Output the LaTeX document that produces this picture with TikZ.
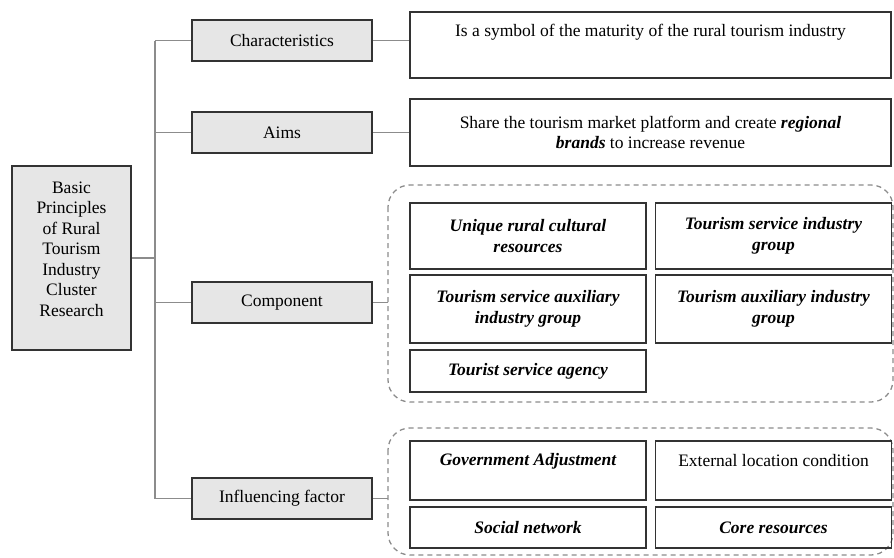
\documentclass[tikz,border=0pt]{standalone}
\usepackage{fontspec}
\setmainfont{Liberation Serif}
\usepackage{tikz}
\usetikzlibrary{positioning}

\definecolor{boxgray}{HTML}{E6E6E6}
\definecolor{linegray}{HTML}{8C8C8C}
\definecolor{edgedark}{HTML}{333333}

\tikzset{
    txt/.style={font=\fontsize{17.5}{20.5}\selectfont, align=center, inner sep=0pt},
    rootbox/.style={draw=edgedark, line width=2.6pt, fill=boxgray, minimum width=119pt, minimum height=184pt, txt},
    catbox/.style={draw=edgedark, line width=2.6pt, fill=boxgray, minimum width=180pt, minimum height=41pt, txt},
    descbox/.style={draw=edgedark, line width=1.6pt, minimum width=481pt, txt},
    itembox/.style={draw=edgedark, line width=1.6pt, minimum width=236pt, txt, font=\fontsize{17.5}{20.5}\selectfont\bfseries\itshape},
    groupbox/.style={draw=linegray, line width=1.3pt, dash pattern=on 5pt off 4pt, rounded corners=22pt},
    conn/.style={draw=linegray, line width=1.8pt}
}

\begin{document}
\begin{tikzpicture}[x=1pt, y=-1pt]
    \useasboundingbox (0,0) rectangle (894,557);

    % radice
    \node[rootbox] (root) at (71.5,258) {};
    \node[txt] (rootT) at (71.5,249) {Basic\\Principles\\of Rural\\Tourism\\Industry\\Cluster\\Research};

    % tronco
    \coordinate (trunkT) at (155,40.5);
    \coordinate (trunkB) at (155,498.5);
    \draw[conn] (trunkT) -- (trunkB);
    \draw[conn] (root.east) -- (root.east -| trunkT);

    % categorie
    \node[catbox] (char) at (282,40.5) {Characteristics};
    \node[catbox] (aims) at (282,132.5) {Aims};
    \node[catbox] (comp) at (282,302.5) {Component};
    \node[catbox] (infl) at (282,498.5) {Influencing factor};
    \foreach \c in {char,aims,comp,infl}
        \draw[conn] (\c.west -| trunkT) -- (\c.west);

    % descrizioni
    \node[descbox, minimum height=66pt] (charD) at (650.5,45) {};
    \node[txt] (charT) at (650.5,32) {Is a symbol of the maturity of the rural tourism industry};
    \node[descbox, minimum height=67pt] (aimsD) at (650.5,132.5)
        {Share the tourism market platform and create \textbf{\textit{regional}}\\\textbf{\textit{brands}} to increase revenue};
    \draw[conn] (char.east) -- (char.east -| charD.west);
    \draw[conn] (aims.east) -- (aims.east -| aimsD.west);

    % componenti
    \draw[groupbox] (388,185) rectangle (893,402);
    \coordinate (compG) at (388,302.5);
    \node[itembox, minimum height=66pt] (uniq) at (528,236) {Unique rural cultural\\resources};
    \node[itembox, minimum height=66pt] (serv) at (773.5,236) {Tourism service industry\\group};
    \node[itembox, minimum height=68pt] (saux) at (528,309) {Tourism service auxiliary\\industry group};
    \node[itembox, minimum height=68pt] (taux) at (773.5,309) {Tourism auxiliary industry\\group};
    \node[itembox, minimum height=42pt] (agen) at (528,371) {Tourist service agency};
    \draw[conn] (comp.east) -- (compG);

    % fattori
    \draw[groupbox] (388,428) rectangle (893,555);
    \coordinate (inflG) at (388,498.5);
    \node[itembox, minimum height=59pt] (gov) at (528,470.5) {};
    \node[txt, font=\fontsize{17.5}{20.5}\selectfont\bfseries\itshape] (govT) at (528,461) {Government Adjustment};
    \node[itembox, minimum height=59pt] (ext) at (773.5,470.5) {};
    \node[txt] (extT) at (773.5,461) {External location condition};
    \node[itembox, minimum height=41pt] (soc) at (528,527.5) {Social network};
    \node[itembox, minimum height=41pt] (core) at (773.5,527.5) {Core resources};
    \draw[conn] (infl.east) -- (inflG);
\end{tikzpicture}
\end{document}
